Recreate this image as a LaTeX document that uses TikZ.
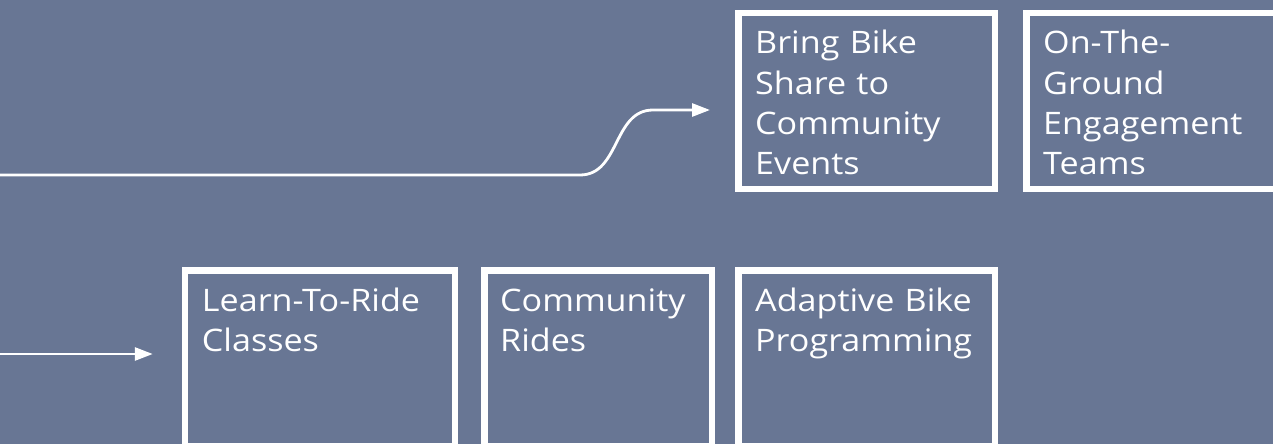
\documentclass[tikz,border=0pt]{standalone}
\usepackage{fontspec}
\setmainfont[FakeStretch=1.1]{Open Sans}
\usetikzlibrary{arrows.meta,calc}
\definecolor{bgblue}{RGB}{104,118,148}
\tikzset{
  box/.style={draw=white, line width=6.5pt, minimum height=175.5pt, inner sep=0pt},
  lbl/.style={text=white, anchor=base west, inner sep=0pt, align=left, text width=240pt,
    font=\fontsize{31}{40}\selectfont},
  conn/.style={draw=white, line width=2.8pt, -{Triangle[length=18pt,width=13pt]}},
}
\begin{document}
\begin{tikzpicture}[x=1pt,y=-1pt]
\fill[bgblue] (0,0) rectangle (1273,444);
\useasboundingbox (0,0) rectangle (1273,444);
\clip (0,0) rectangle (1273,444);
% top row
\node[box, minimum width=256.5pt] (bring) at (866.5,101) {};
\node[box, minimum width=260.5pt] (ground) at (1156.5,101) {};
% bottom row
\node[box, minimum width=269.75pt] (learn) at (319.9,358) {};
\node[box, minimum width=227.5pt] (rides) at (598,358) {};
\node[box, minimum width=256.5pt] (adaptive) at (866.5,358) {};
% labels
\node[lbl] (tbring) at ($(bring.north west)+(20,44)$) {Bring Bike\\Share to\\Community\\Events};
\node[lbl] (tground) at ($(ground.north west)+(20,44)$) {On-The-\\Ground\\Engagement\\Teams};
\node[lbl] (tlearn) at ($(learn.north west)+(20,44)$) {Learn-To-Ride\\Classes};
\node[lbl] (trides) at ($(rides.north west)+(19,44)$) {Community\\Rides};
\node[lbl] (tadaptive) at ($(adaptive.north west)+(20,44)$) {Adaptive Bike\\Programming};
% connectors
\coordinate (s1) at (0,175);
\coordinate (s2) at (0,354);
\draw[conn] (s1) -- (580,175) .. controls (620,175) and (613,110) .. (653,110) -- ($(bring.west)+(-25,9)$);
\draw[conn] (s2) -- ($(learn.west)+(-29,-4)$);
\end{tikzpicture}
\end{document}
